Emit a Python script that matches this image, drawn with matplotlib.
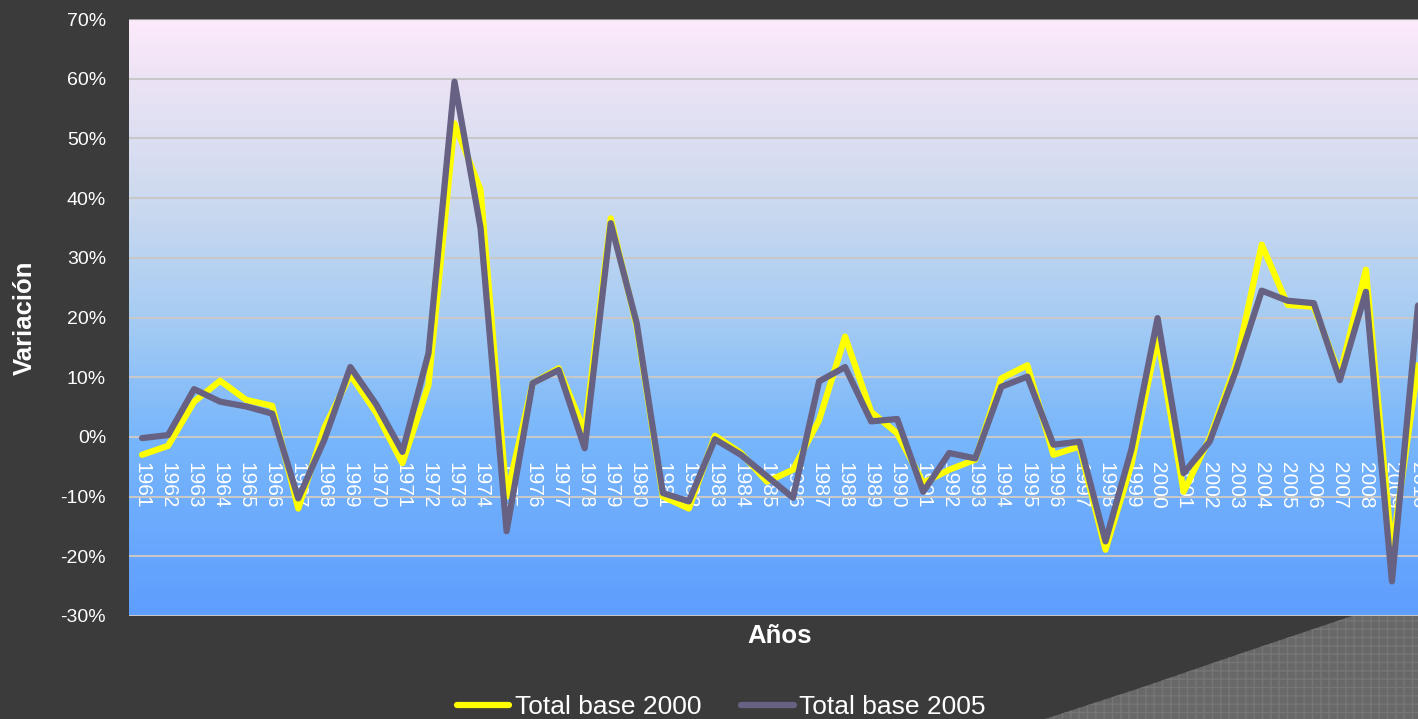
import numpy as np
import matplotlib.pyplot as plt
from matplotlib.patches import Polygon
from matplotlib.colors import LinearSegmentedColormap
from matplotlib.ticker import PercentFormatter

plt.rcParams['font.family'] = ['Liberation Sans', 'DejaVu Sans']
plt.rcParams['axes.unicode_minus'] = False

# datos (variacion anual, %)
years = list(range(1961, 2011))
base_2000 = [-3.0, -1.5, 5.9, 9.4, 6.2, 5.2, -12.0, 1.5, 10.4, 4.0,
             -4.4, 8.7, 52.5, 41.4, -10.0, 9.0, 11.5, 0.9, 36.6, 18.5,
             -10.0, -12.0, 0.2, -2.7, -7.5, -5.5, 2.8, 16.8, 4.2, 0.6,
             -7.7, -5.5, -3.8, 9.8, 12.0, -3.0, -1.6, -18.9, -4.5, 16.8,
             -9.2, -0.2, 12.0, 32.2, 22.1, 21.8, 10.4, 28.0, -19.0, 12.0]
base_2005 = [-0.2, 0.3, 8.0, 5.9, 5.1, 3.9, -10.3, -0.5, 11.7, 5.4,
             -2.5, 14.0, 59.5, 35.0, -15.8, 9.0, 11.2, -1.9, 35.8, 19.0,
             -9.4, -10.8, -0.4, -3.0, -6.6, -10.2, 9.3, 11.7, 2.6, 3.0,
             -9.2, -2.7, -3.6, 8.4, 10.1, -1.3, -0.8, -17.5, -2.0, 19.9,
             -6.1, -0.8, 11.0, 24.5, 22.8, 22.4, 9.5, 24.3, -24.2, 22.0]
labels = ['Total base 2000', 'Total base 2005']

bg = '#3b3b3b'
fig = plt.figure(figsize=(14.18, 7.19), dpi=100, facecolor=bg)
ax = fig.add_axes([129/1418, 1 - 616/719, 1302/1418, 597/719])

# fondo degradado
stops = [(0.0, '#5e9efe'), (0.3, '#78b6fb'), (0.5, '#a6ccf3'),
         (0.7, '#cddaef'), (0.9, '#ece3f5'), (1.0, '#fdeafa')]
cmap = LinearSegmentedColormap.from_list('grad', stops)
grad = np.linspace(1, 0, 256).reshape(-1, 1)
ax.imshow(grad, cmap=cmap, extent=[1960.5, 2010.5, -0.3, 0.7],
          aspect='auto', zorder=0, interpolation='bicubic')

ax.plot(years, np.array(base_2000) / 100, color='#ffff00', lw=4.5,
        solid_joinstyle='round', solid_capstyle='round', label=labels[0], zorder=3)
ax.plot(years, np.array(base_2005) / 100, color='#676283', lw=4.5,
        solid_joinstyle='round', solid_capstyle='round', label=labels[1], zorder=4)

# eje x en la linea del 0%
for s in ax.spines.values():
    s.set_visible(False)
ax.spines['bottom'].set_position(('data', 0))

ax.set_xlim(1960.5, 2010.5)
ax.set_ylim(-0.3, 0.7)
ax.set_yticks(np.arange(-0.3, 0.71, 0.1))
ax.yaxis.set_major_formatter(PercentFormatter(1.0, decimals=0))
ax.set_xticks(years)
ax.set_xticklabels([str(y) for y in years])

ax.set_axisbelow(True)
ax.grid(axis='y', color='#c8c8c8', lw=1.5)
ax.grid(axis='x', visible=False)
ax.tick_params(axis='x', length=0, pad=18, labelsize=15, colors='white',
               labelrotation=270)
ax.tick_params(axis='y', length=0, pad=16.5, labelsize=14, colors='white')
ax.axhline(0.7, color='#9a9a9a', lw=1.5, zorder=1)

fig.text(25/1418, 1 - 318/719, 'Variación', rotation=90, color='white',
         fontsize=18.5, fontweight='bold', ha='center', va='center')
fig.text(780/1418, 1 - 636/719, 'Años', color='white',
         fontsize=18.5, fontweight='bold', ha='center', va='center')

# forma gris de la esquina
pts = [(1045, 719), (1140, 688), (1245, 652), (1352, 616), (1418, 616), (1418, 719)]
corner = Polygon([(x / 1418, 1 - y / 719) for x, y in pts], closed=True,
                 transform=fig.transFigure, facecolor='#686868',
                 edgecolor='#767676', hatch='++', lw=0, zorder=0)
fig.add_artist(corner)

fig.legend(loc='center', bbox_to_anchor=(721/1418, 1 - 707/719), ncol=2,
           frameon=False, fontsize=19, handlelength=2.0, handletextpad=0.2,
           columnspacing=1.5, labelcolor='white', borderaxespad=0)

fig.savefig('out.png', dpi=100, facecolor=bg)
